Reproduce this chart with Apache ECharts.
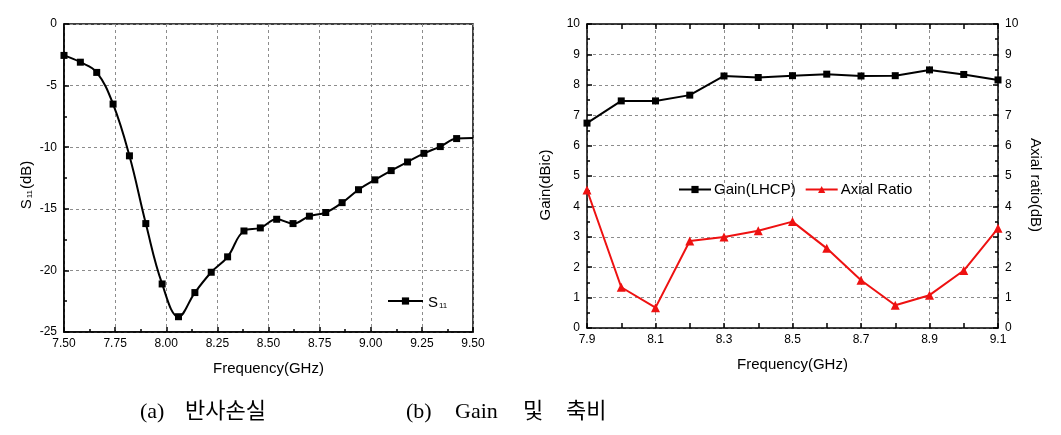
<!DOCTYPE html>
<html><head><meta charset="utf-8">
<script src="https://cdn.jsdelivr.net/npm/echarts@6/dist/echarts.min.js"></script>
<style>html,body{margin:0;padding:0;background:#fff}#c{width:1061px;height:435px}</style>
</head><body><div id="c"></div>
<script>
// (a) Return loss
const s11Freqs = [7.50,7.58,7.66,7.74,7.82,7.90,7.98,8.06,8.14,8.22,8.30,8.38,8.46,8.54,8.62,8.70,8.78,8.86,8.94,9.02,9.10,9.18,9.26,9.34,9.42,9.50];
const s11Values = [-2.55,-3.1,-3.93,-6.5,-10.7,-16.2,-21.1,-23.76,-21.8,-20.15,-18.9,-16.8,-16.55,-15.85,-16.2,-15.6,-15.3,-14.5,-13.45,-12.65,-11.9,-11.2,-10.5,-9.95,-9.3,-9.25];
// (b) Gain and axial ratio
const gainFreqs = ['7.9','8.0','8.1','8.2','8.3','8.4','8.5','8.6','8.7','8.8','8.9','9.0','9.1'];
const gainValues = [6.74,7.47,7.47,7.66,8.29,8.24,8.30,8.35,8.29,8.30,8.49,8.34,8.16];
const axialRatioValues = [4.54,1.34,0.67,2.86,2.99,3.2,3.5,2.62,1.57,0.75,1.08,1.89,3.28];
// captions
const captionA = ['(a)', '반사손실'];
const captionB = ['(b)', 'Gain', '및', '축비'];

const FONT = 'Liberation Sans, Arial, sans-serif';
const CAPFONT = '"Liberation Serif", "Noto Sans CJK KR", serif';
const black = {color:'#000', width:1.5};
const dash = {color:'#8c8c8c', width:1, type:[3,3]};
const tickLabel = {color:'#000', fontSize:12, fontFamily:FONT};
const nameStyle = {color:'#000', fontSize:15, fontFamily:FONT};
const subRich = {
  s:{fontSize:15, fontFamily:FONT, color:'#000', lineHeight:18, verticalAlign:'bottom'},
  sub:{fontSize:8, fontFamily:FONT, color:'#000', lineHeight:12, verticalAlign:'bottom', padding:[0,1,0,1]}
};

const s11Data = s11Freqs.map((f,i)=> i===s11Freqs.length-1 ? {value:[f,s11Values[i]], symbol:'none'} : [f,s11Values[i]]);

const option = {
  animation:false,
  backgroundColor:'#fff',
  grid:[
    {left:64, right:588, top:24, bottom:103, show:true, borderColor:'#000', borderWidth:1.5},
    {left:587, right:63, top:24, bottom:107, show:false}
  ],
  xAxis:[
    {gridIndex:0, type:'value', min:7.5, max:9.5, interval:0.25,
     axisLine:{show:true, onZero:false, lineStyle:black},
     axisTick:{show:true, inside:true, length:5, lineStyle:black},
     minorTick:{show:true, splitNumber:2, length:3, lineStyle:black},
     splitLine:{show:true, lineStyle:dash},
     axisLabel:Object.assign({margin:6, formatter:v=>v.toFixed(2)}, tickLabel),
     name:'Frequency(GHz)', nameLocation:'middle', nameGap:29, nameTextStyle:nameStyle},
    {gridIndex:1, type:'category', data:gainFreqs, boundaryGap:false,
     axisLine:{show:true, onZero:false, lineStyle:black},
     axisTick:{show:true, inside:true, length:5, interval:0, lineStyle:black},
     splitLine:{show:true, interval:1, lineStyle:dash},
     axisLabel:Object.assign({margin:6, interval:1}, tickLabel),
     name:'Frequency(GHz)', nameLocation:'middle', nameGap:29, nameTextStyle:nameStyle},
    {gridIndex:1, type:'category', data:gainFreqs, boundaryGap:false, position:'top',
     axisLine:{show:true, onZero:false, lineStyle:black},
     axisTick:{show:true, inside:true, length:5, interval:0, lineStyle:black},
     splitLine:{show:false}, axisLabel:{show:false}}
  ],
  yAxis:[
    {gridIndex:0, type:'value', min:-25, max:0, interval:5,
     axisLine:{show:true, onZero:false, lineStyle:black},
     axisTick:{show:true, inside:true, length:5, lineStyle:black},
     minorTick:{show:true, splitNumber:2, length:3, lineStyle:black},
     splitLine:{show:true, lineStyle:dash},
     axisLabel:Object.assign({margin:7}, tickLabel),
     name:'{s|S}{sub|11}{s|(dB)}', nameLocation:'middle', nameGap:30, nameRotate:90,
     nameTextStyle:{rich:subRich, padding:[0,14,0,0]}},
    {gridIndex:1, type:'value', min:0, max:10, interval:1,
     axisLine:{show:true, onZero:false, lineStyle:black},
     axisTick:{show:true, inside:true, length:5, lineStyle:black},
     minorTick:{show:true, splitNumber:2, length:3, lineStyle:black},
     splitLine:{show:true, lineStyle:dash},
     axisLabel:Object.assign({margin:7}, tickLabel),
     name:'Gain(dBic)', nameLocation:'middle', nameGap:34, nameRotate:90,
     nameTextStyle:Object.assign({padding:[0,18,0,0]}, nameStyle)},
    {gridIndex:1, type:'value', min:0, max:10, interval:1, position:'right',
     axisLine:{show:true, onZero:false, lineStyle:black},
     axisTick:{show:true, inside:true, length:5, lineStyle:black},
     minorTick:{show:true, splitNumber:2, length:3, lineStyle:black},
     splitLine:{show:false},
     axisLabel:Object.assign({margin:7}, tickLabel),
     name:'Axial ratio(dB)', nameLocation:'middle', nameGap:30, nameRotate:-90,
     nameTextStyle:Object.assign({padding:[0,0,0,18]}, nameStyle)}
  ],
  legend:[
    {data:['S11'], left:382, top:290, itemWidth:35, itemHeight:9, itemGap:4,
     formatter:()=>'{s|S}{sub|11}', textStyle:{rich:subRich}},
    {data:['Gain(LHCP)','Axial Ratio'], left:673, top:177, itemWidth:32, itemHeight:9, itemGap:9,
     textStyle:{color:'#000', fontSize:15, fontFamily:FONT, padding:[0,0,0,-2]}}
  ],
  series:[
    {name:'S11', type:'line', xAxisIndex:0, yAxisIndex:0, data:s11Data, smooth:0.4,
     symbol:'rect', symbolSize:7, lineStyle:{color:'#000', width:2}, itemStyle:{color:'#000'}},
    {name:'Gain(LHCP)', type:'line', xAxisIndex:1, yAxisIndex:1, data:gainValues,
     symbol:'rect', symbolSize:7, lineStyle:{color:'#000', width:2}, itemStyle:{color:'#000'}},
    {name:'Axial Ratio', type:'line', xAxisIndex:1, yAxisIndex:2, data:axialRatioValues,
     symbol:'triangle', symbolSize:9, lineStyle:{color:'#ee1111', width:2}, itemStyle:{color:'#ee1111'}}
  ],
  graphic:[
    {type:'text', left:140, top:401, style:{text:captionA[0], font:'22px '+CAPFONT, fill:'#000'}},
    {type:'text', left:185, top:401, style:{text:captionA[1], font:'22px '+CAPFONT, fill:'#000'}},
    {type:'text', left:406, top:401, style:{text:captionB[0], font:'22px '+CAPFONT, fill:'#000'}},
    {type:'text', left:455, top:401, style:{text:captionB[1], font:'22px '+CAPFONT, fill:'#000'}},
    {type:'text', left:523, top:401, style:{text:captionB[2], font:'22px '+CAPFONT, fill:'#000'}},
    {type:'text', left:566, top:401, style:{text:captionB[3], font:'22px '+CAPFONT, fill:'#000'}}
  ]
};
echarts.init(document.getElementById('c')).setOption(option);
</script></body></html>
